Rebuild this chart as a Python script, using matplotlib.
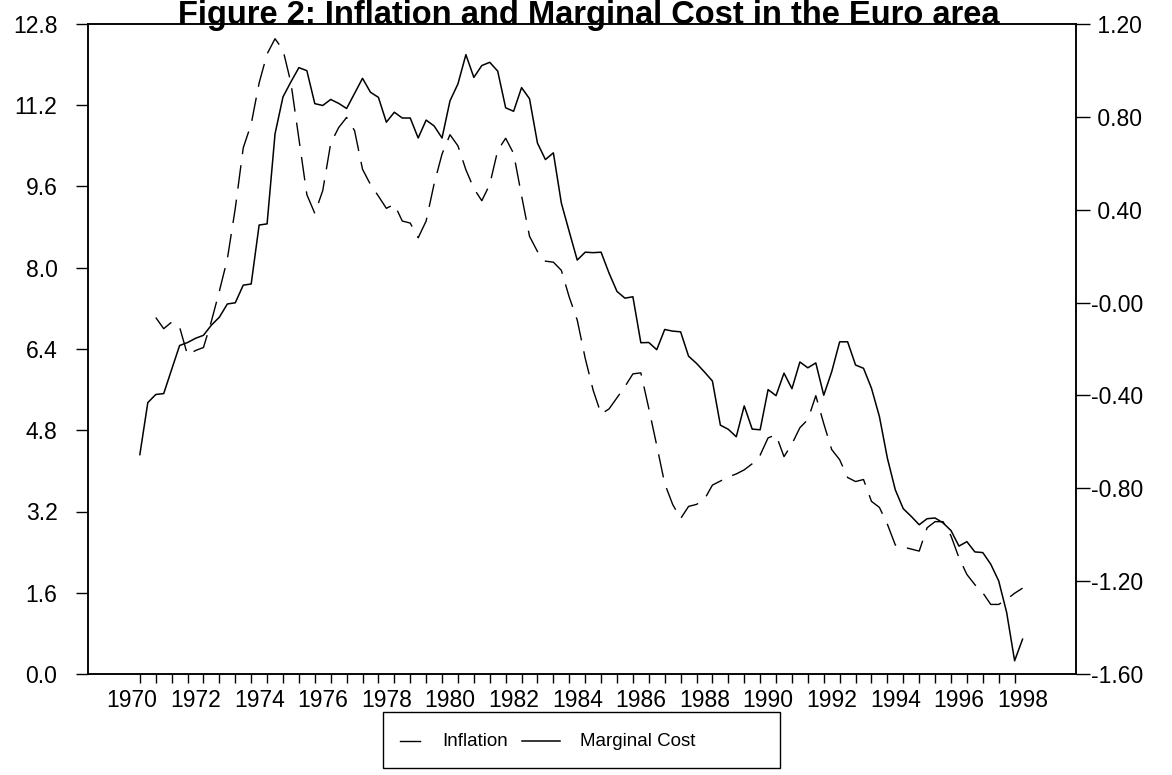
import numpy as np
import pandas as pd
import matplotlib
matplotlib.use("Agg")
import matplotlib.pyplot as plt
from matplotlib.lines import Line2D
from matplotlib.patches import Rectangle

plt.rcParams["font.family"] = ["Liberation Sans", "DejaVu Sans"]

# quarterly data, 1970Q2 - 1998Q1
quarters = pd.period_range("1970Q2", "1998Q1", freq="Q")

marginal_cost = [
    -0.655, -0.431, -0.396, -0.392, -0.288, -0.185, -0.172, -0.154, -0.141, -0.097,
    -0.063, -0.006, -0.001, 0.075, 0.080, 0.334, 0.339, 0.727, 0.886, 0.951,
    1.012, 0.999, 0.857, 0.849, 0.875, 0.858, 0.836, 0.901, 0.966, 0.906,
    0.884, 0.777, 0.820, 0.795, 0.795, 0.709, 0.786, 0.761, 0.709, 0.869,
    0.942, 1.068, 0.970, 1.021, 1.035, 0.997, 0.839, 0.824, 0.926, 0.878,
    0.687, 0.616, 0.645, 0.429, 0.305, 0.183, 0.217, 0.215, 0.217, 0.127,
    0.048, 0.019, 0.025, -0.173, -0.172, -0.203, -0.116, -0.123, -0.126, -0.231,
    -0.262, -0.299, -0.338, -0.528, -0.546, -0.578, -0.445, -0.545, -0.548, -0.375,
    -0.401, -0.304, -0.371, -0.256, -0.281, -0.260, -0.399, -0.298, -0.169, -0.169,
    -0.269, -0.283, -0.369, -0.491, -0.670, -0.807, -0.888, -0.921, -0.957, -0.931,
    -0.928, -0.949, -0.982, -1.049, -1.030, -1.074, -1.077, -1.127, -1.199, -1.335,
    -1.543, -1.450,
]

# inflation starts two quarters later (1970Q4)
inflation = [
    7.02, 6.80, 6.93, 6.83, 6.28, 6.37, 6.43, 6.95, 7.54, 8.17,
    9.17, 10.36, 10.83, 11.64, 12.21, 12.51, 12.29, 11.64, 10.54, 9.44,
    9.07, 9.52, 10.45, 10.76, 10.96, 10.70, 9.94, 9.64, 9.41, 9.17,
    9.25, 8.92, 8.88, 8.59, 8.92, 9.65, 10.24, 10.62, 10.40, 9.93,
    9.56, 9.32, 9.64, 10.31, 10.55, 10.25, 9.42, 8.62, 8.32, 8.13,
    8.11, 7.95, 7.42, 6.97, 6.22, 5.59, 5.12, 5.22, 5.44, 5.66,
    5.91, 5.93, 5.23, 4.50, 3.75, 3.34, 3.06, 3.30, 3.34, 3.44,
    3.72, 3.80, 3.88, 3.94, 4.02, 4.14, 4.31, 4.65, 4.71, 4.28,
    4.53, 4.85, 5.01, 5.48, 4.93, 4.42, 4.22, 3.87, 3.79, 3.83,
    3.40, 3.28, 2.95, 2.54, 2.50, 2.46, 2.42, 2.88, 3.00, 3.00,
    2.72, 2.29, 1.96, 1.76, 1.60, 1.37, 1.37, 1.47, 1.59, 1.69,
]

left_ticks = [0.0, 1.6, 3.2, 4.8, 6.4, 8.0, 9.6, 11.2, 12.8]
left_labels = ["0.0", "1.6", "3.2", "4.8", "6.4", "8.0", "9.6", "11.2", "12.8"]
right_ticks = [-1.6, -1.2, -0.8, -0.4, 0.0, 0.4, 0.8, 1.2]
right_labels = ["-1.60", "-1.20", "-0.80", "-0.40", "-0.00", " 0.40", " 0.80", " 1.20"]
year_labels = list(range(1970, 1999, 2))

t = quarters.year + (quarters.quarter - 1) / 4.0
t_infl = t[len(t) - len(inflation):]

W, H = 1172, 775
fig = plt.figure(figsize=(W / 100, H / 100), dpi=100)
ax = fig.add_axes([88 / W, 1 - 674 / H, (1076 - 88) / W, (674 - 24) / H])
ax2 = ax.twinx()

dash = (17, 8)
ax.plot(t_infl, inflation, color="black", lw=1.0, dashes=dash)
ax2.plot(t, marginal_cost, color="black", lw=1.1)

ax.set_xlim(1968.62, 1999.68)
ax.set_ylim(0, 12.8)
ax2.set_ylim(-1.6, 1.2)

for a in (ax, ax2):
    for s in a.spines.values():
        s.set_linewidth(1.1)

ax.set_yticks(left_ticks)
ax.set_yticklabels(left_labels)
ax.tick_params(axis="y", direction="out", length=9, width=1.0, labelsize=16.5, pad=13)

ax2.set_yticks(right_ticks)
ax2.set_yticklabels(right_labels)
ax2.tick_params(axis="y", direction="out", length=10, width=1.0, labelsize=16.5, pad=1)

ax.set_xticks(year_labels)
ax.set_xticklabels([str(y) for y in year_labels])
ax.set_xticks(np.arange(1970.25, 1998.0, 0.5), minor=True)
ax.tick_params(axis="x", which="major", length=0, labelsize=16.5, pad=11)
ax.tick_params(axis="x", which="minor", direction="out", length=6.5, width=1.0)

fig.text(0.502, 1 - 24 / H, "Figure 2: Inflation and Marginal Cost in the Euro area",
         ha="center", va="baseline", fontsize=23.5, fontweight="bold")

# legend box under the axis
fig.add_artist(Rectangle((383 / W, 1 - 768 / H), (780 - 383) / W, (768 - 712) / H,
                         transform=fig.transFigure, fill=False, lw=1.0, ec="black"))
ly = 1 - 741 / H
fig.add_artist(Line2D([400 / W, 420 / W], [ly, ly], transform=fig.transFigure,
                      color="black", lw=1.0))
fig.add_artist(Line2D([522 / W, 560 / W], [ly, ly], transform=fig.transFigure,
                      color="black", lw=1.1))
fig.text(442 / W, ly, "Inflation", ha="left", va="center", fontsize=13.5)
fig.text(580 / W, ly, "Marginal Cost", ha="left", va="center", fontsize=13.5)

fig.savefig("out.png", dpi=100)
